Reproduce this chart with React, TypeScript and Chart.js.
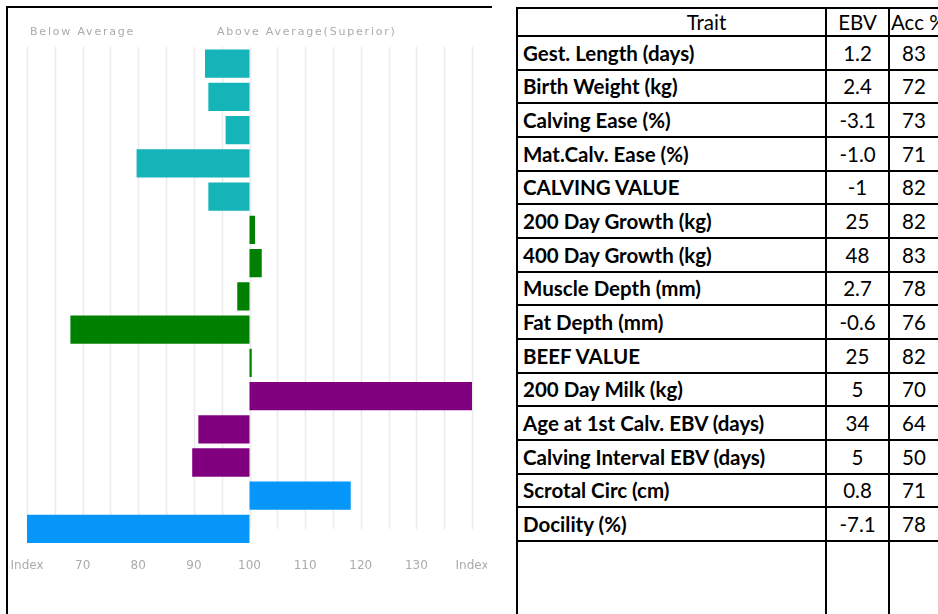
import React, { useEffect, useRef } from "react";
import { Chart, registerables } from "chart.js";

Chart.register(...registerables);

const traits = [
  "Gest. Length (days)",
  "Birth Weight (kg)",
  "Calving Ease (%)",
  "Mat.Calv. Ease (%)",
  "CALVING VALUE",
  "200 Day Growth (kg)",
  "400 Day Growth (kg)",
  "Muscle Depth (mm)",
  "Fat Depth (mm)",
  "BEEF VALUE",
  "200 Day Milk (kg)",
  "Age at 1st Calv. EBV (days)",
  "Calving Interval EBV (days)",
  "Scrotal Circ (cm)",
  "Docility (%)",
];
const indexValues = [92, 92.6, 95.7, 79.7, 92.6, 101, 102.2, 97.8, 67.8, 100.4, 140, 90.8, 89.7, 118.2, 60];
const barColors = [
  "#15b4b8", "#15b4b8", "#15b4b8", "#15b4b8", "#15b4b8",
  "#008000", "#008000", "#008000", "#008000", "#008000",
  "#800080", "#800080", "#800080",
  "#0797fb", "#0797fb",
];
const ebvValues = ["1.2", "2.4", "-3.1", "-1.0", "-1", "25", "48", "2.7", "-0.6", "25", "5", "34", "5", "0.8", "-7.1"];
const accValues = ["83", "72", "73", "71", "82", "82", "83", "78", "76", "82", "70", "64", "50", "71", "78"];
const baseline = 100;
const axisMin = 60;
const axisMax = 140;
const gridStep = 5;
const edgeLabel = "Index";
const tableHeaders = ["Trait", "EBV", "Acc %"];
const topLabels = ["Below Average", "Above Average(Superior)"];

const gridPlugin = {
  id: "shortGrid",
  beforeDatasetsDraw(chart: any) {
    const { ctx, chartArea, scales } = chart;
    const xs = scales.x;
    const ys = scales.y;
    const bottom = ys.getPixelForValue(traits.length - 1);
    ctx.save();
    ctx.strokeStyle = "#ebebeb";
    ctx.lineWidth = 1.5;
    for (let v = axisMin; v <= axisMax; v += gridStep) {
      const x = Math.round(xs.getPixelForValue(v)) + 0.5;
      ctx.beginPath();
      ctx.moveTo(x, chartArea.top);
      ctx.lineTo(x, bottom);
      ctx.stroke();
    }
    ctx.restore();
  },
};

function BarChart() {
  const ref = useRef<HTMLCanvasElement | null>(null);
  useEffect(() => {
    if (!ref.current) return;
    const chart = new Chart(ref.current, {
      type: "bar",
      data: {
        labels: traits,
        datasets: [
          {
            data: indexValues.map((v) => [baseline, v]) as any,
            backgroundColor: barColors,
            borderWidth: 0,
            borderSkipped: false,
            categoryPercentage: 1,
            barPercentage: 0.85,
          },
        ],
      },
      plugins: [gridPlugin],
      options: {
        indexAxis: "y",
        animation: false,
        responsive: false,
        maintainAspectRatio: false,
        layout: { padding: { left: 19, right: 15, top: 39, bottom: 28 } },
        plugins: { legend: { display: false }, tooltip: { enabled: false }, title: { display: false } },
        scales: {
          y: { display: false },
          x: {
            min: axisMin,
            max: axisMax,
            border: { display: false },
            grid: { display: false, drawTicks: false },
            afterFit: (scale: any) => {
              scale.paddingLeft = 0;
              scale.paddingRight = 0;
            },
            ticks: {
              stepSize: gridStep,
              padding: 13,
              autoSkip: false,
              maxRotation: 0,
              color: "#ababab",
              font: { family: "DejaVu Sans", size: 12 },
              callback: (v: any) => {
                const n = Number(v);
                if (n === axisMin || n === axisMax) return edgeLabel;
                if (n % 10 === 0) return String(n);
                return "";
              },
            },
          },
        },
      },
    });
    return () => chart.destroy();
  }, []);
  return <canvas ref={ref} width={479} height={606} style={{ position: "absolute", left: 8, top: 8 }} />;
}

export default function App() {
  const cell: React.CSSProperties = {
    border: "2px solid #000",
    padding: "0 0 0 5px",
    fontFamily: "Lato, 'Noto Sans', sans-serif",
    fontSize: 20.5,
    whiteSpace: "nowrap",
    overflow: "hidden",
  };
  const num: React.CSSProperties = { ...cell, textAlign: "center", padding: 0, fontWeight: 400 };
  const topStyle: React.CSSProperties = {
    position: "absolute",
    top: 25,
    color: "#ababab",
    fontFamily: "DejaVu Sans",
    fontSize: 11,
    letterSpacing: 1.8,
    whiteSpace: "nowrap",
  };
  return (
    <div style={{ position: "fixed", left: 0, top: 0, width: 938, height: 614, overflow: "hidden", background: "#fff" }}>
      <div style={{ position: "absolute", left: 6, top: 6, width: 484, height: 620, borderLeft: "2px solid #000", borderTop: "2px solid #000" }} />
      <BarChart />
      <div style={{ ...topStyle, left: 30 }}>{topLabels[0]}</div>
      <div style={{ ...topStyle, left: 217 }}>{topLabels[1]}</div>
      <table
        style={{
          position: "absolute",
          left: 516,
          top: 7,
          width: 424,
          borderCollapse: "collapse",
          tableLayout: "fixed",
        }}
      >
        <colgroup>
          <col style={{ width: 309 }} />
          <col style={{ width: 63 }} />
          <col style={{ width: 50 }} />
        </colgroup>
        <tbody>
          <tr style={{ height: 28 }}>
            <td style={{ ...cell, textAlign: "center", padding: "0 0 0 70px" }}>{tableHeaders[0]}</td>
            <td style={num}>{tableHeaders[1]}</td>
            <td style={{ ...num, textAlign: "left", paddingLeft: 1 }}>{tableHeaders[2]}</td>
          </tr>
          {traits.map((t, i) => (
            <tr key={t} style={{ height: 33.67 }}>
              <td style={{ ...cell, fontWeight: 700 }}>{t}</td>
              <td style={num}>{ebvValues[i]}</td>
              <td style={num}>{accValues[i]}</td>
            </tr>
          ))}
          <tr style={{ height: 90 }}>
            <td style={cell}></td>
            <td style={num}></td>
            <td style={num}></td>
          </tr>
        </tbody>
      </table>
    </div>
  );
}
